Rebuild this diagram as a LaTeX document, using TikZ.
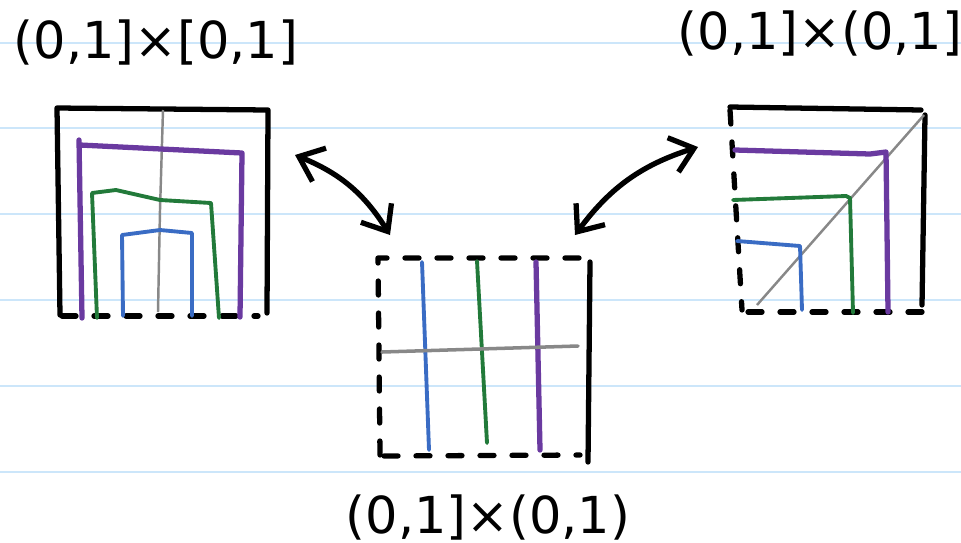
\documentclass[tikz,border=0pt]{standalone}
\usepackage{fontspec}
\setmainfont{DejaVu Sans}
\usetikzlibrary{arrows.meta}
\definecolor{ruleblue}{RGB}{204,230,250}
\definecolor{setpurple}{RGB}{106,58,160}
\definecolor{setgreen}{RGB}{34,122,58}
\definecolor{setblue}{RGB}{58,108,196}
\definecolor{setgray}{RGB}{136,136,136}
\tikzset{rule/.style={ruleblue, line width=0.25mm},
  edge/.style={black, line width=1.5pt, line cap=round, line join=round},
  openedge/.style={edge, dash pattern=on 1.4mm off 1.8mm},
  lvl/.style={line width=1.1pt, line cap=round, line join=round},
  twin/.style={edge, {Straight Barb[length=2.2mm,width=3.6mm]}-{Straight Barb[length=2.2mm,width=3.6mm]}},
  lbl/.style={font=\fontsize{14.5}{16}\selectfont}}

\begin{document}
\begin{tikzpicture}[x=0.1mm, y=-0.1mm]
  \useasboundingbox[fill=white] (0,0) rectangle (961,542);
  % notebook lines
  \foreach \y in {43,128,214,300,386,472}
    \draw[rule] (0,\y) -- (961,\y);
  % labels
  \node[lbl] (lname) at (156,42) {(0,1]×[0,1]};
  \node[lbl] (rname) at (820,33) {(0,1]×(0,1]};
  \node[lbl] (mname) at (488,517) {(0,1]×(0,1)};
  % left square
  \draw[edge] (60,315) -- (57,108) -- (268,110) -- (267,313);
  \draw[openedge] (62,316) -- (258,316);
  \draw[setgray, line width=0.7pt] (163,110) -- (160,210) -- (158,312);
  \draw[lvl, setpurple, line width=1.5pt] (79,140) -- (82,318);
  \draw[lvl, setpurple, line width=1.5pt] (80,145) -- (242,153) -- (240,317);
  \draw[lvl, setgreen] (97,318) -- (92,193) -- (116,190) -- (160,200) -- (211,203) -- (219,318);
  \draw[lvl, setblue] (123,316) -- (122,235) -- (160,230) -- (192,233) -- (192,316);
  % middle square
  \draw[openedge] (380,455) -- (378,258) -- (590,258);
  \draw[openedge] (384,456) -- (580,455);
  \draw[edge] (590,262) -- (588,462);
  \draw[lvl, setblue] (422,262) -- (429,450);
  \draw[lvl, setgreen] (477,261) -- (487,443);
  \draw[lvl, setpurple, line width=1.5pt] (536,262) -- (540,450);
  \draw[setgray, line width=1pt, line cap=round] (382,352) -- (578,346);
  % right square
  \draw[edge] (730,107) -- (921,110);
  \draw[edge] (925,115) -- (922,305);
  \draw[openedge] (730,110) -- (742,310);
  \draw[openedge] (748,312) -- (930,312);
  \draw[setgray, line width=0.7pt] (757,305) -- (924,115);
  \draw[lvl, setpurple, line width=1.5pt] (735,150) -- (870,154) -- (886,152) -- (888,312);
  \draw[lvl, setgreen] (733,200) -- (846,196) -- (850,198) -- (853,313);
  \draw[lvl, setblue] (737,241) -- (800,246) -- (802,310);
  % maps between the squares
  \coordinate (lend) at (295,155);
  \coordinate (mlend) at (390,235);
  \coordinate (mrend) at (575,235);
  \coordinate (rend) at (698,147);
  \draw[twin] (lend) to[bend left=18] (mlend);
  \draw[twin] (mrend) to[bend left=18] (rend);
\end{tikzpicture}
\end{document}
